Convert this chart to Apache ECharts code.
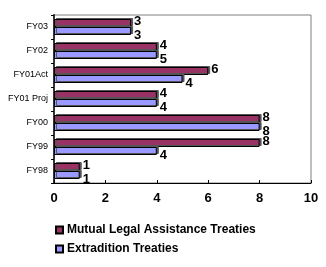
<!DOCTYPE html>
<html><head><meta charset="utf-8">
<script src="https://cdn.jsdelivr.net/npm/echarts@6/dist/echarts.min.js"></script>
<style>html,body{margin:0;padding:0;background:#fff}#c{width:326px;height:267px}</style>
</head><body><div id="c"></div>
<script>
const categories = ['FY98', 'FY99', 'FY00', 'FY01 Proj', 'FY01Act', 'FY02', 'FY03'];
const mutualValues = [1, 8, 8, 4, 6, 4, 3];
const extraditionValues = [1, 4, 8, 4, 5, 4, 3];
const mutualLabels = ['1', '8', '8', '4', '6', '4', '3'];
const extraditionLabels = ['1', '4', '8', '4', '4', '5', '3'];
const xTicks = [0, 2, 4, 6, 8, 10];

const chart = echarts.init(document.getElementById('c'));
const labelFont = {fontFamily: 'Arial, Liberation Sans', fontWeight: 'bold', fontSize: 13, color: '#000'};
chart.setOption({
  animation: false,
  grid: {left: 54, right: 15, top: 15, bottom: 84, show: true, borderColor: '#808080', borderWidth: 1},
  legend: {
    orient: 'vertical', left: 55, top: 224, padding: 0, itemWidth: 7, itemHeight: 7, itemGap: 7,
    textStyle: {fontFamily: 'Arial, Liberation Sans', fontWeight: 'bold', fontSize: 12, color: '#000', padding: [0, 0, 0, -1]},
    data: [{name: 'Mutual Legal Assistance Treaties', icon: 'rect'}, {name: 'Extradition Treaties', icon: 'rect'}]
  },
  xAxis: {
    type: 'value', min: xTicks[0], max: xTicks[xTicks.length - 1], interval: 2,
    axisLine: {show: true, lineStyle: {color: '#000', width: 1}},
    axisTick: {show: true, inside: true, length: 3, lineStyle: {color: '#000'}},
    splitLine: {show: false},
    axisLabel: {fontFamily: 'Arial, Liberation Sans', fontWeight: 'bold', fontSize: 13, color: '#000', margin: 9}
  },
  yAxis: {
    type: 'category', data: categories,
    axisLine: {show: true, lineStyle: {color: '#333', width: 2}},
    axisTick: {show: true, length: 3, lineStyle: {color: '#000'}},
    axisLabel: {fontFamily: 'Arial, Liberation Sans', fontSize: 9, color: '#000', margin: 6}
  },
  series: [
    {
      name: 'Mutual Legal Assistance Treaties', type: 'bar', data: mutualValues,
      barWidth: 8, barGap: '0%',
      itemStyle: {color: '#993366', borderColor: '#000', borderWidth: 1, shadowColor: '#555', shadowOffsetX: 2, shadowOffsetY: -1, shadowBlur: 0},
      label: Object.assign({show: true, position: 'right', distance: 3, offset: [0, -2],
        formatter: p => mutualLabels[p.dataIndex]}, labelFont)
    },
    {
      name: 'Extradition Treaties', type: 'bar', data: extraditionValues,
      barWidth: 8, barGap: '0%',
      itemStyle: {color: '#9999FF', borderColor: '#000', borderWidth: 1, shadowColor: '#555', shadowOffsetX: 2, shadowOffsetY: -1, shadowBlur: 0},
      label: Object.assign({show: true, position: 'right', distance: 3, offset: [0, 4],
        formatter: p => extraditionLabels[p.dataIndex]}, labelFont)
    }
  ]
});
</script></body></html>
